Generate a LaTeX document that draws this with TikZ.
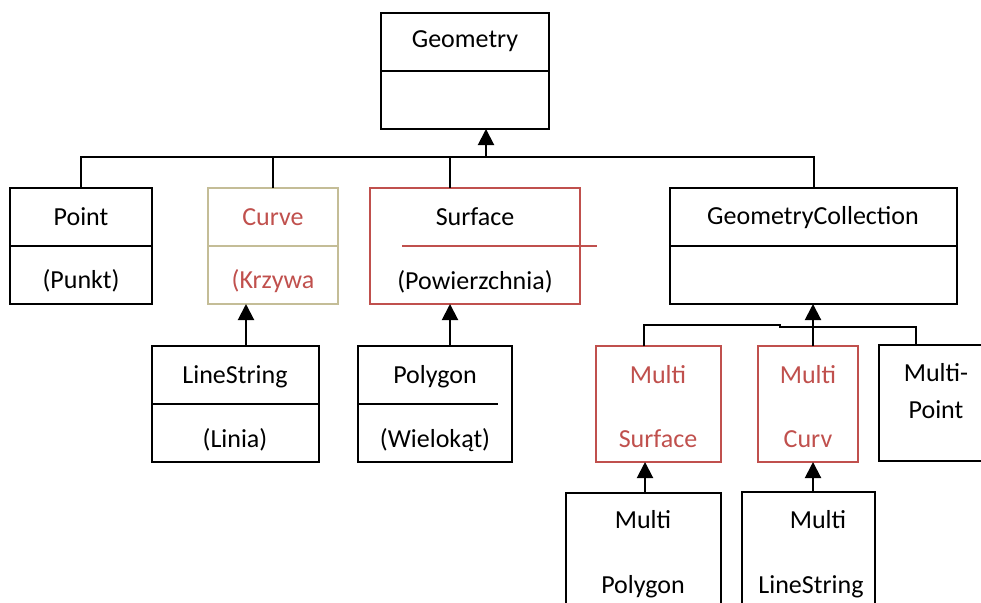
\documentclass[tikz,border=0pt]{standalone}
\usepackage{fontspec}
\setmainfont{Carlito}
\usetikzlibrary{arrows.meta}
\definecolor{redtxt}{HTML}{C0504D}
\definecolor{khaki}{HTML}{C4BD97}

\begin{document}
\begin{tikzpicture}[x=1pt,y=-1pt,
  box/.style={draw=black,line width=2pt,rectangle,anchor=north west,inner sep=0pt,outer sep=0pt},
  redbox/.style={box,draw=redtxt},
  khakibox/.style={box,draw=khaki},
  lbl/.style={anchor=base,inner sep=0pt,font=\fontsize{26}{30}\selectfont},
  redlbl/.style={lbl,text=redtxt},
  conn/.style={line width=2pt,line join=miter},
  arr/.style={conn,-{Triangle[width=16pt,length=16pt]}},
  divider/.style={line width=2pt}
]
\useasboundingbox (0,0) rectangle (981,602);
\clip (0,0) rectangle (981,602);

% ---------- class boxes ----------
\node[box,minimum width=168pt,minimum height=116pt] (geom) at (381,13) {};
\node[box,minimum width=142pt,minimum height=116pt] (point) at (10,188) {};
\node[khakibox,minimum width=130pt,minimum height=116pt] (curve) at (208,188) {};
\node[redbox,minimum width=210pt,minimum height=116pt] (surf) at (370,188) {};
\node[box,minimum width=287pt,minimum height=116pt] (gc) at (670,188) {};
\node[box,minimum width=167pt,minimum height=116pt] (ls) at (152,346) {};
\node[box,minimum width=154pt,minimum height=116pt] (poly) at (358,346) {};
\node[redbox,minimum width=125pt,minimum height=116pt] (msurf) at (596,346) {};
\node[redbox,minimum width=100pt,minimum height=116pt] (mcurv) at (758,346) {};
\node[box,minimum width=140pt,minimum height=116pt] (mpoint) at (879,345) {};
\node[box,minimum width=155pt,minimum height=140pt] (mpoly) at (566,493) {};
\node[box,minimum width=133pt,minimum height=140pt] (mls) at (742,492) {};

% ---------- compartment dividers ----------
\draw[divider] (geom.west) -- (geom.east);
\draw[divider] (point.west) -- (point.east);
\draw[divider,khaki] (curve.west) -- (curve.east);
\draw[divider,redtxt] (surf.west) ++(32,0) -- ++(195,0);
\draw[divider] (gc.west) -- (gc.east);
\draw[divider] (ls.west) -- (ls.east);
\draw[divider] (poly.west) -- ++(140,0);

% ---------- labels ----------
\node[lbl] (tGeom) at (465,48) {Geometry};
\node[lbl] (tPoint) at (81,225) {Point};
\node[lbl] (tPunkt) at (81,288) {(Punkt)};
\node[redlbl] (tCurve) at (273,225) {Curve};
\node[redlbl] (tKrzywa) at (273,288) {(Krzywa};
\node[lbl] (tSurf) at (475,225) {Surface};
\node[lbl] (tPow) at (475,289) {(Powierzchnia)};
\node[lbl] (tGC) at (813,224) {GeometryCollection};
\node[lbl] (tLS) at (235,383) {LineString};
\node[lbl] (tLinia) at (235,447) {(Linia)};
\node[lbl] (tPoly) at (435,383) {Polygon};
\node[lbl] (tWiel) at (435,447) {(Wielokąt)};
\node[redlbl] (tMS1) at (658,383) {Multi};
\node[redlbl] (tMS2) at (658,447) {Surface};
\node[redlbl] (tMC1) at (808,383) {Multi};
\node[redlbl] (tMC2) at (808,447) {Curv};
\node[lbl] (tMP1) at (936,381) {Multi-};
\node[lbl] (tMP2) at (936,418) {Point};
\node[lbl] (tMPo1) at (643,528) {Multi};
\node[lbl] (tMPo2) at (643,593) {Polygon};
\node[lbl] (tMLS1) at (818,528) {Multi};
\node[lbl] (tMLS2) at (811,593) {LineString};

% ---------- connector positions ----------
\coordinate (bus) at (0,157);
\coordinate (bus2) at (0,325);
\coordinate (xGeo) at (486,0);
\coordinate (xSurf) at (450,0);
\coordinate (xLS) at (246,0);
\coordinate (xMS) at (644,0);
\coordinate (xMC) at (813,0);
\coordinate (xMP) at (916,0);
\coordinate (xMPo) at (645,0);
\coordinate (jogA) at (780,325);
\coordinate (jogB) at (780,327);

% ---------- generalisation: Geometry ----------
\draw[conn] (point.north) -- (point.north |- bus) -- (gc.north |- bus) -- (gc.north);
\draw[conn] (curve.north) -- (curve.north |- bus);
\draw[conn] (xSurf |- surf.north) -- (xSurf |- bus);
\draw[arr] (xGeo |- bus) -- (xGeo |- geom.south);

% ---------- generalisation: GeometryCollection ----------
\draw[conn] (xMS |- msurf.north) -- (xMS |- bus2) -- (jogA) -- (jogB) -- (xMP |- jogB) -- (xMP |- mpoint.north);
\draw[arr] (xMC |- mcurv.north) -- (xMC |- gc.south);

% ---------- single inheritance arrows ----------
\draw[arr] (xLS |- ls.north) -- (xLS |- curve.south);
\draw[arr] (xSurf |- poly.north) -- (xSurf |- surf.south);
\draw[arr] (xMPo |- mpoly.north) -- (xMPo |- msurf.south);
\draw[arr] (xMC |- mls.north) -- (xMC |- mcurv.south);
\end{tikzpicture}
\end{document}
